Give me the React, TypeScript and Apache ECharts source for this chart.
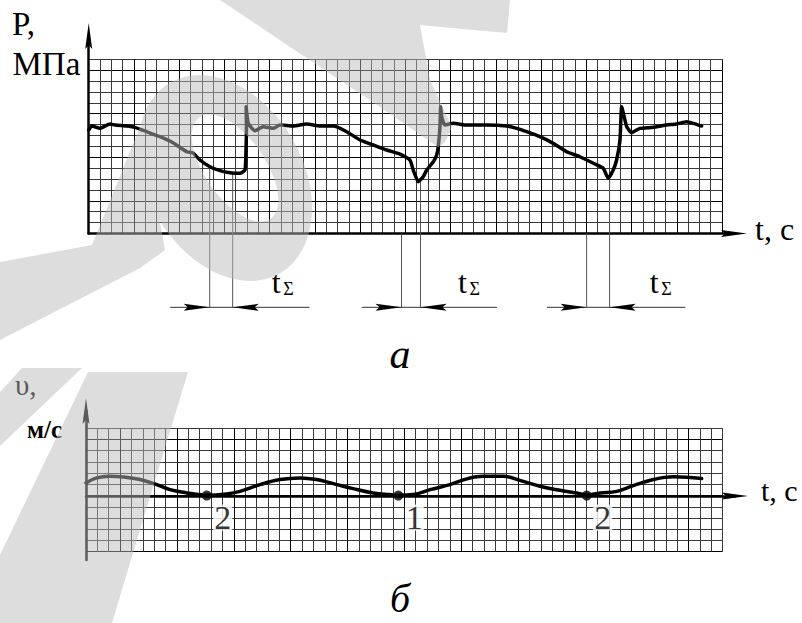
import React, { useEffect, useRef } from 'react';
import * as echarts from 'echarts';

// ---- (а) pressure trace, in grid-cell units (t: 0..56, P: 0..16)
const P_T = [0, 0.27, 1.0, 1.88, 2.33, 3.36, 4.09, 5.13, 6.3, 7.45, 8.66, 9.22, 9.84, 10.72, 11.61, 12.49, 13.38, 13.82, 13.9, 13.95, 13.92, 14.11, 14.7, 15.44, 16.32, 16.91, 18.09, 19.27, 20.45, 21.63, 22.81, 23.99, 25.16, 26.35, 27.52, 28.41, 28.7, 29.14, 29.58, 29.89, 30.47, 30.77, 30.91, 31.06, 31.12, 31.21, 31.5, 32.24, 33.42, 35.19, 36.96, 37.84, 38.73, 39.9, 41.08, 42.26, 43.44, 44.62, 45.5, 45.94, 46.38, 46.68, 46.98, 47.13, 47.57, 48.01, 48.74, 49.92, 51.1, 51.99, 52.87, 53.46, 54.2];
const P_V = [9.5, 9.87, 9.66, 10.06, 9.96, 9.87, 9.75, 9.35, 8.89, 8.34, 7.51, 7.39, 6.75, 6.13, 5.77, 5.58, 5.53, 5.83, 7.39, 9.81, 11.64, 10.12, 9.44, 9.81, 9.66, 9.96, 9.87, 10.06, 9.87, 9.87, 9.35, 8.59, 8.13, 7.67, 7.3, 6.75, 5.83, 4.76, 5.22, 5.83, 6.59, 7.21, 7.97, 9.81, 11.64, 10.73, 9.96, 10.12, 9.96, 9.96, 9.87, 9.66, 9.35, 8.89, 8.28, 7.51, 7.05, 6.45, 5.99, 5.07, 5.83, 6.75, 8.59, 11.64, 9.81, 9.26, 9.66, 9.75, 9.96, 10.06, 10.27, 10.12, 9.87];

// t_Σ dimension marks (same units as the pressure chart)
const DIM_LEFT = [10.7, 27.66, 44.03];
const DIM_RIGHT = [12.73, 29.34, 46.06];
const DIM_LEFT_TOP = [6.13, 0, 0];
const DIM_RIGHT_TOP = [5.6, 4.76, 5.07];
const DIM_FROM = [7.21, 24.16, 40.52];
const DIM_TO = [19.52, 36.1, 52.76];
const DIM_LEVEL = -6.78;
const LABEL_X = [16.18, 32.65, 49.62];
const LABEL_LEVEL = -5.46;

// ---- (б) velocity trace (t: 0..56, v: -5..6)
const V_T = [0, 0.94, 2.11, 3.28, 4.75, 6.22, 7.39, 8.86, 10.03, 10.62, 12.37, 13.54, 15.3, 17.06, 18.82, 20.29, 21.75, 23.51, 25.27, 26.74, 27.47, 28.79, 30.26, 32.01, 33.48, 34.94, 36.7, 38.17, 39.93, 41.69, 43.16, 44.04, 45.21, 46.68, 48.14, 49.9, 51.65, 52.83, 54.15];
const V_V = [1.13, 1.58, 1.72, 1.66, 1.43, 0.98, 0.53, 0.24, 0.09, 0.03, 0.15, 0.38, 0.98, 1.43, 1.58, 1.43, 1.07, 0.62, 0.24, 0.09, 0.03, 0.09, 0.53, 0.98, 1.49, 1.72, 1.72, 1.36, 0.83, 0.47, 0.24, 0.05, 0.24, 0.38, 0.89, 1.43, 1.67, 1.63, 1.52];
const DOT_T = [10.62, 27.47, 44.04];
const DOT_V = [0, 0, 0];
const DOT_LABELS = ['2', '1', '2'];

// captions (text, layout)
const CAPTION_TEXT = ['P,', 'МПа', 't, c', 'υ,', 'м/с', 't, c', 'а', 'б'];
const CAPTION_LAYOUT = [
  { x: 12, base: 35, size: 33 },
  { x: 12.5, base: 75, size: 33 },
  { x: 755, base: 240, size: 32 },
  { x: 15, base: 395, size: 29 },
  { x: 27, base: 438, size: 25, bold: true },
  { x: 761, base: 501, size: 30 },
  { x: 400, base: 368, size: 42, italic: true, center: true },
  { x: 400, base: 612, size: 40, italic: true, center: true },
];

const FONT = 'Liberation Serif';
const ARROW = 'path://M0,26 L3.5,0 L7,26 L3.5,22 Z';
const MINOR = '#3a3a3a';
const MAJOR = '#000000';
const WATERMARK = 'rgba(185,185,185,0.49)';

function cycle(n: number, majorIdx: number): string[] {
  const a: string[] = [];
  for (let i = 0; i < n; i++) a.push(i === majorIdx ? MAJOR : MINOR);
  return a;
}

function ellipsePoints(cx: number, cy: number, a: number, b: number, rotDeg: number): number[][] {
  const r = (rotDeg * Math.PI) / 180;
  const pts: number[][] = [];
  const n = 60;
  for (let i = 0; i < n; i++) {
    const t = (i / n) * Math.PI * 2;
    const ex = a * Math.cos(t);
    const ey = b * Math.sin(t);
    pts.push([cx + ex * Math.cos(r) - ey * Math.sin(r), cy + ex * Math.sin(r) + ey * Math.cos(r)]);
  }
  return pts;
}

function subPath(points: number[][], positive: boolean) {
  let area = 0;
  for (let i = 0; i < points.length; i++) {
    const p = points[i];
    const q = points[(i + 1) % points.length];
    area += p[0] * q[1] - q[0] * p[1];
  }
  const pts = (area > 0) === positive ? points : points.slice().reverse();
  return 'M' + pts.map((p) => `${p[0].toFixed(1)},${p[1].toFixed(1)}`).join(' L') + ' Z';
}

let shapeRegistered = false;
function registerWatermark() {
  if (shapeRegistered) return;
  const d = [
    subPath(ellipsePoints(225, 178, 110, 78, 60), true),
    subPath(ellipsePoints(235, 168, 62, 30, 55), false),
    subPath([[220, 0], [510, 0], [507, 33], [420, 25], [430, 80], [452, 127], [445, 142], [438, 147], [380, 107]], true),
    subPath([[142, 122], [165, 250], [140, 268], [0, 340], [0, 262], [92, 245]], true),
    subPath([[88, 372], [188, 372], [130, 563], [112, 623], [0, 623], [0, 555]], true),
    subPath([[22, 368], [82, 368], [0, 446], [0, 392]], true),
  ].join(' ');
  echarts.graphic.registerShape('wmShape', echarts.graphic.extendPath(d, {}) as any);
  shapeRegistered = true;
}

const hiddenAxis = {
  axisLabel: { show: false },
  axisTick: { show: false },
  axisLine: { show: false },
};

const arrowAxis = (grid: number, min: number, max: number) => ({
  gridIndex: grid,
  type: 'value',
  min,
  max,
  axisLabel: { show: false },
  axisTick: { show: false },
  splitLine: { show: false },
  axisLine: {
    show: true,
    onZero: true,
    symbol: ['none', ARROW],
    symbolSize: [7, 26],
    lineStyle: { color: '#000', width: 2.5 },
  },
});

export default function App() {
  const ref = useRef<HTMLDivElement>(null);

  useEffect(() => {
    registerWatermark();
    const chart = echarts.init(ref.current as HTMLDivElement, null, { renderer: 'svg' });

    const renderDims = (_params: any, api: any) => {
      const xl = api.value(0);
      const xr = api.value(1);
      const tl = api.value(2);
      const tr = api.value(3);
      const xs = api.value(4);
      const xe = api.value(5);
      const lx = api.value(6);
      const pl = api.coord([xl, DIM_LEVEL]);
      const plTop = api.coord([xl, tl]);
      const pr = api.coord([xr, DIM_LEVEL]);
      const prTop = api.coord([xr, tr]);
      const ps = api.coord([xs, DIM_LEVEL]);
      const pe = api.coord([xe, DIM_LEVEL]);
      const pt = api.coord([lx, LABEL_LEVEL]);
      const y = pl[1];
      const L = 26;
      const H = 3.5;
      const N = 22;
      return {
        type: 'group',
        children: [
          { type: 'line', shape: { x1: pl[0], y1: plTop[1], x2: pl[0], y2: y }, style: { stroke: '#555', lineWidth: 1 } },
          { type: 'line', shape: { x1: pr[0], y1: prTop[1], x2: pr[0], y2: y }, style: { stroke: '#555', lineWidth: 1 } },
          { type: 'line', shape: { x1: ps[0], y1: y, x2: pe[0], y2: y }, style: { stroke: '#333', lineWidth: 1 } },
          { type: 'polygon', shape: { points: [[pl[0], y], [pl[0] - L, y - H], [pl[0] - N, y], [pl[0] - L, y + H]] }, style: { fill: '#000' } },
          { type: 'polygon', shape: { points: [[pr[0], y], [pr[0] + L, y - H], [pr[0] + N, y], [pr[0] + L, y + H]] }, style: { fill: '#000' } },
          {
            type: 'text',
            style: { text: 't', x: pt[0], y: pt[1] - 0.34 * 32, fontFamily: FONT, fontSize: 32, fill: '#000', align: 'left', verticalAlign: 'middle' },
          },
          {
            type: 'text',
            style: { text: 'Σ', x: pt[0] + 11.5, y: pt[1] + 2 - 0.34 * 18, fontFamily: FONT, fontSize: 18, fill: '#000', align: 'left', verticalAlign: 'middle' },
          },
        ],
      };
    };

    const renderCaption = (params: any) => {
      const c: any = CAPTION_LAYOUT[params.dataIndex];
      const style: any = {
        text: CAPTION_TEXT[params.dataIndex],
        x: c.x,
        y: c.base - 0.34 * c.size,
        fontFamily: FONT,
        fontSize: c.size,
        fill: '#000',
        align: c.center ? 'center' : 'left',
        verticalAlign: 'middle',
      };
      if (c.italic) style.fontStyle = 'italic';
      if (c.bold) style.fontWeight = 'bold';
      return { type: 'text', style };
    };

    const option: any = {
      animation: false,
      backgroundColor: '#ffffff',
      textStyle: { fontFamily: FONT },
      grid: [
        { left: 88.7, top: 59.3, width: 633.3, height: 174.2 },
        { left: 88.7, top: 36, width: 645.3, height: 197.5 },
        { left: 86, top: 428.3, width: 636.7, height: 123.4 },
        { left: 86, top: 411, width: 649, height: 149 },
      ],
      xAxis: [
        { gridIndex: 0, type: 'value', min: 0, max: 56, interval: 1, ...hiddenAxis, splitLine: { show: true, lineStyle: { color: cycle(4, 0), width: 1 } } },
        arrowAxis(1, 0, 1),
        { gridIndex: 2, type: 'value', min: 0, max: 56, interval: 1, ...hiddenAxis, splitLine: { show: true, lineStyle: { color: cycle(5, 3), width: 1 } } },
        arrowAxis(3, 0, 1),
      ],
      yAxis: [
        { gridIndex: 0, type: 'value', min: 0, max: 16, interval: 1, ...hiddenAxis, splitLine: { show: true, lineStyle: { color: cycle(4, 3), width: 1 } } },
        arrowAxis(1, 0, 1),
        { gridIndex: 2, type: 'value', min: -5, max: 6, interval: 1, ...hiddenAxis, splitLine: { show: true, lineStyle: { color: cycle(5, 0), width: 1 } } },
        arrowAxis(3, -64, 85),
      ],
      series: [
        {
          type: 'line',
          xAxisIndex: 0,
          yAxisIndex: 0,
          data: P_T.map((t, i) => [t, P_V[i]]),
          symbol: 'none',
          smooth: 0.15,
          lineStyle: { color: '#000', width: 3.5, cap: 'round', join: 'round' },
          z: 5,
        },
        {
          type: 'custom',
          xAxisIndex: 0,
          yAxisIndex: 0,
          clip: false,
          silent: true,
          data: DIM_LEFT.map((xl, i) => [xl, DIM_RIGHT[i], DIM_LEFT_TOP[i], DIM_RIGHT_TOP[i], DIM_FROM[i], DIM_TO[i], LABEL_X[i]]),
          renderItem: renderDims,
          z: 4,
        },
        {
          type: 'line',
          xAxisIndex: 2,
          yAxisIndex: 2,
          data: V_T.map((t, i) => [t, V_V[i]]),
          symbol: 'none',
          smooth: 0.4,
          lineStyle: { color: '#000', width: 3.5, cap: 'round' },
          z: 5,
        },
        {
          type: 'scatter',
          xAxisIndex: 2,
          yAxisIndex: 2,
          data: DOT_T.map((t, i) => ({ value: [t, DOT_V[i]], label: { formatter: DOT_LABELS[i] } })),
          symbolSize: 10,
          itemStyle: { color: '#000' },
          label: {
            show: true,
            position: 'inside',
            offset: [16, 22],
            fontFamily: FONT,
            fontSize: 34,
            color: '#000',
            backgroundColor: '#fff',
            padding: [0, 1],
            lineHeight: 26,
          },
          z: 6,
        },
        {
          type: 'custom',
          coordinateSystem: 'none',
          silent: true,
          data: CAPTION_TEXT.map((_, i) => i),
          renderItem: renderCaption,
          z: 7,
        },
      ],
      graphic: [{ type: 'wmShape', silent: true, z: 100, style: { fill: WATERMARK } }],
    };

    chart.setOption(option);
    return () => chart.dispose();
  }, []);

  return <div ref={ref} style={{ position: 'fixed', left: 0, top: 0, width: 802, height: 623 }} />;
}
